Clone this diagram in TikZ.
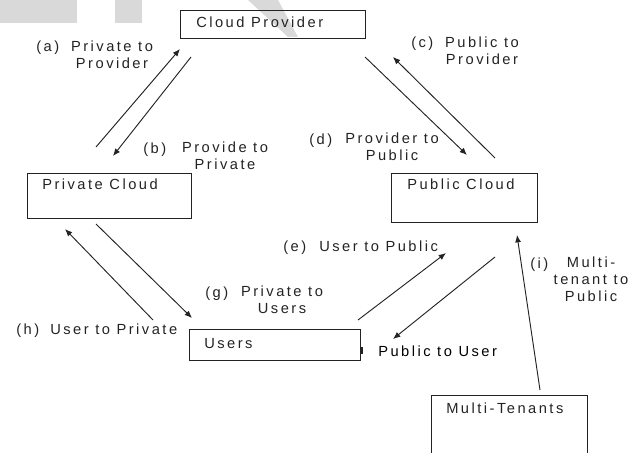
\documentclass[tikz,border=0pt]{standalone}
\usepackage{fontspec}
\setmainfont{Liberation Sans}[LetterSpace=17]
\usetikzlibrary{arrows.meta}
\definecolor{markgray}{RGB}{217,217,217}
\definecolor{inkgray}{RGB}{35,35,35}
\tikzset{
  cloudbox/.style={
    draw=inkgray,
    line width=0.9pt,
    inner sep=0pt,
    anchor=north west
  },
  boxname/.style={
    anchor=base west,
    inner sep=0pt,
    text=inkgray,
    font=\fontsize{11}{12.5}\selectfont
  },
  flowtag/.style={boxname},
  flowtext/.style={
    anchor=north,
    align=center,
    inner sep=0pt,
    text=inkgray,
    font=\fontsize{11}{12.5}\selectfont
  },
  flowarrow/.style={
    draw=inkgray,
    line width=0.7pt,
    -{Latex[length=5.5pt,width=4.5pt]}
  }
}

\begin{document}
\begin{tikzpicture}[x=0.75pt,y=-0.75pt]

  \clip (0,0) rectangle (643,453);

  % Light grey marks along the top edge.
  \fill[markgray] (0,0) rectangle (77,23);
  \fill[markgray] (115,0) rectangle (142,23);
  \fill[markgray] (248,0) -- (278,0) -- (298,37) -- (288,37) -- cycle;

  % The five parties, drawn as plain boxes.
  \node[cloudbox,minimum width=138.75pt,minimum height=21pt]   (prov)  at (180,10)  {};
  \node[cloudbox,minimum width=123pt,minimum height=33.75pt]   (priv)  at (27,173)  {};
  \node[cloudbox,minimum width=109.5pt,minimum height=36.75pt] (pub)   at (391,173) {};
  \node[cloudbox,minimum width=128.25pt,minimum height=23.25pt](users) at (189,329) {};
  \node[cloudbox,minimum width=117pt,minimum height=60pt]      (multi) at (431,395) {};
  \fill[inkgray] (360,347) rectangle (363,354);

  \node[boxname] (provname)  at (196,28)  {Cloud Provider};
  \node[boxname] (privname)  at (42,190)  {Private Cloud};
  \node[boxname] (pubname)   at (407,190) {Public Cloud};
  \node[boxname] (usersname) at (204,348) {Users};
  \node[boxname] (multiname) at (446,413) {Multi-Tenants};

  % Free ends of the flows (start, then tip).
  \coordinate (a0) at (96,147);   \coordinate (a1) at (180,49);
  \coordinate (b0) at (191,57);   \coordinate (b1) at (113,156);
  \coordinate (c0) at (495,158);  \coordinate (c1) at (393,57);
  \coordinate (d0) at (365,57);   \coordinate (d1) at (467,155);
  \coordinate (e0) at (358,320);  \coordinate (e1) at (446,253);
  \coordinate (f0) at (495,257);  \coordinate (f1) at (393,339);
  \coordinate (g0) at (96,224);   \coordinate (g1) at (192,318);
  \coordinate (h0) at (153,320);  \coordinate (h1) at (65,229);
  \coordinate (i0) at (540,390);  \coordinate (i1) at (517,235);

  \foreach \f in {a,b,c,d,e,f,g,h,i}
    \draw[flowarrow] (\f0) -- (\f1);

  % Flow labels: a tag, then the wording.
  \node[flowtag] (taga) at (36,52)  {(a)};
  \node[flowtext] (texta) at (112,41) {Private to\\Provider};
  \node[flowtag] (tagb) at (143,153) {(b)};
  \node[flowtext] (textb) at (225,142) {Provide to\\Private};
  \node[flowtag] (tagc) at (411,48)  {(c)};
  \node[flowtext] (textc) at (482,37) {Public to\\Provider};
  \node[flowtag] (tagd) at (309,144) {(d)};
  \node[flowtext] (textd) at (392,133) {Provider to\\Public};
  \node[flowtag] (tage) at (283,251) {(e)};
  \node[boxname] (texte) at (319,251) {User to Public};
  \node[flowtag] (tagg) at (205,297) {(g)};
  \node[flowtext] (textg) at (282,286) {Private to\\Users};
  \node[flowtag] (tagh) at (16,334)  {(h)};
  \node[boxname] (texth) at (50,334)  {User to Private};
  \node[flowtag] (tagi) at (530,268) {(i)};
  \node[flowtext] (texti) at (591,257) {Multi-\\tenant to\\Public};
  \node[boxname,text=black] (textf) at (378,356) {Public to User};

\end{tikzpicture}
\end{document}
